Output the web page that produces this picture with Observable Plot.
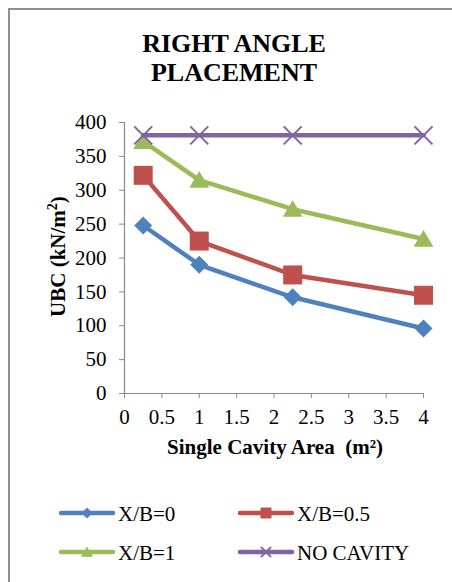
<!DOCTYPE html>
<html><head><meta charset="utf-8">
<script src="https://cdn.jsdelivr.net/npm/d3@7"></script>
<script src="https://cdn.jsdelivr.net/npm/@observablehq/plot@0.6"></script>
<style>
html,body{margin:0;padding:0;background:#fff;}
#wrap{position:relative;width:452px;height:582px;overflow:hidden;font-family:"Liberation Serif","Times New Roman",serif;color:#000;}
#wrap div{font-family:"Liberation Serif","Times New Roman",serif;}
#frame{position:absolute;left:8px;top:8px;width:500px;height:600px;border-left:2px solid #8f8f8f;border-top:2px solid #8f8f8f;}
#title{position:absolute;left:0;width:468px;top:29px;text-align:center;font-weight:bold;font-size:26px;line-height:29px;}
#chart{position:absolute;left:0;top:0;}
#xtitle{position:absolute;left:0;width:550px;top:437px;text-align:center;font-weight:bold;font-size:21px;line-height:21px;white-space:nowrap;}
#ytitle{position:absolute;left:-42px;top:246px;width:200px;height:21px;text-align:center;font-weight:bold;font-size:21px;line-height:21px;transform:rotate(-90deg);white-space:nowrap;}
.lg{position:absolute;font-size:21px;line-height:20px;white-space:nowrap;}
.ls{position:absolute;}
</style></head>
<body><div id="wrap">
<div id="frame"></div>
<div id="title">RIGHT ANGLE<br>PLACEMENT</div>
<div id="chart"></div>
<div id="xtitle">Single Cavity Area&nbsp; (m²)</div>
<div id="ytitle">UBC (kN/m<sup style="font-size:14px;line-height:0">2</sup>)</div>
<div id="legend"></div>
</div>
<script>
const area = [0.25, 1, 2.25, 4];
const xb0 = [248, 190, 142, 96];
const xb05 = [322, 225, 175, 145];
const xb1 = [372, 315, 272, 228];
const noCavity = [381, 381, 381, 381];
const seriesNames = ["X/B=0", "X/B=0.5", "X/B=1", "NO CAVITY"];
const seriesColors = ["#4F81BD", "#C0504D", "#9BBB59", "#8064A2"];
const xTicks = [0, 0.5, 1, 1.5, 2, 2.5, 3, 3.5, 4];
const yTicks = [0, 50, 100, 150, 200, 250, 300, 350, 400];

const seriesValues = [xb0, xb05, xb1, noCavity];
const data = seriesValues.flatMap((vals, i) => area.map((a, j) => ({area: a, ubc: vals[j], series: seriesNames[i]})));

function sz(size){ return Math.sqrt(size / Math.PI); }
const diamond = {draw(c, size){ const s = sz(size); c.moveTo(0,-s); c.lineTo(s,0); c.lineTo(0,s); c.lineTo(-s,0); c.closePath(); }};
const square = {draw(c, size){ const s = sz(size); c.rect(-s,-s,2*s,2*s); }};
const triangle = {draw(c, size){ const s = sz(size); c.moveTo(0,-s); c.lineTo(s*1.1,s*0.85); c.lineTo(-s*1.1,s*0.85); c.closePath(); }};
const cross = {draw(c, size){ const s = sz(size); c.moveTo(-s,-s); c.lineTo(s,s); c.moveTo(s,-s); c.lineTo(-s,s); }};
const symbols = [diamond, square, triangle, cross];

const marks = [
  Plot.ruleX([0], {y1: 0, y2: 400, stroke: "#8a8a8a", strokeWidth: 1.2}),
  Plot.ruleY([0], {x1: 0, x2: 4, stroke: "#8a8a8a", strokeWidth: 1.2}),
  Plot.axisY({ticks: yTicks, tickSize: 5, tickPadding: 13, label: null, stroke: "#8a8a8a", fill: "#000", tickFormat: d => String(d)}),
  Plot.axisX({ticks: xTicks, tickSize: 5, tickPadding: 11, label: null, stroke: "#8a8a8a", fill: "#000", tickFormat: d => String(d)})
];
seriesNames.forEach((name, i) => {
  const d = data.filter(r => r.series === name);
  marks.push(Plot.line(d, {x: "area", y: "ubc", stroke: seriesColors[i], strokeWidth: 4.5, strokeLinejoin: "round"}));
  if (i === 3) {
    marks.push(Plot.dot(d, {x: "area", y: "ubc", symbol: cross, r: 9, stroke: seriesColors[i], strokeWidth: 2, fill: "none"}));
  } else {
    marks.push(Plot.dot(d, {x: "area", y: "ubc", symbol: symbols[i], r: i === 1 ? 9.5 : 9, fill: seriesColors[i], stroke: "none"}));
  }
});

const chart = Plot.plot({
  width: 452, height: 440,
  marginLeft: 124, marginRight: 29, marginTop: 122, marginBottom: 47,
  x: {domain: [0, 4]},
  y: {domain: [0, 400]},
  style: {fontFamily: "Liberation Serif, Times New Roman, serif", fontSize: "21px", background: "transparent", color: "#000"},
  marks
});
document.getElementById("chart").appendChild(chart);

// legend
const legend = document.getElementById("legend");
const pos = [[58, 504], [237, 504], [58, 543], [237, 543]];
const lineY = [513, 513, 552, 552];
seriesNames.forEach((name, i) => {
  const [lx, ty] = pos[i];
  const svg = d3.create("svg").attr("class", "ls").attr("width", 60).attr("height", 20)
    .style("left", lx + "px").style("top", (lineY[i] - 10) + "px");
  svg.append("line").attr("x1", 3).attr("x2", 55).attr("y1", 10).attr("y2", 10)
    .attr("stroke", seriesColors[i]).attr("stroke-width", 4.5).attr("stroke-linecap", "round");
  const s = d3.symbol(symbols[i], (i === 3 ? 5 : 5.5) ** 2 * Math.PI);
  const p = svg.append("path").attr("d", s()).attr("transform", "translate(29,10)");
  if (i === 3) p.attr("fill", "none").attr("stroke", seriesColors[i]).attr("stroke-width", 1.8);
  else p.attr("fill", seriesColors[i]);
  legend.appendChild(svg.node());
  const t = document.createElement("div");
  t.className = "lg";
  t.style.left = (lx + 60) + "px";
  t.style.top = ty + "px";
  t.textContent = name;
  legend.appendChild(t);
});
</script>
</body></html>
